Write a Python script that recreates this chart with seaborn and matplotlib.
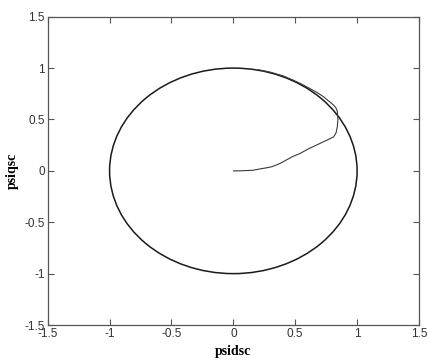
import numpy as np
import pandas as pd
import matplotlib
matplotlib.use("Agg")
import matplotlib.pyplot as plt
from matplotlib.patches import Circle
import seaborn as sns

# Stator flux trajectory (d/q components) during start-up
psid = [0.0, 0.05, 0.16, 0.22, 0.27, 0.31, 0.35, 0.39, 0.43, 0.48, 0.54, 0.60, 0.67, 0.74, 0.81,
        0.83, 0.84, 0.845, 0.84, 0.83, 0.81, 0.77, 0.73, 0.68, 0.62, 0.55, 0.48, 0.40, 0.30, 0.20]
psiq = [0.0, 0.0, 0.006, 0.02, 0.03, 0.04, 0.058, 0.08, 0.107, 0.14, 0.17, 0.21, 0.25, 0.29, 0.33,
        0.37, 0.43, 0.50, 0.58, 0.61, 0.64, 0.68, 0.72, 0.76, 0.80, 0.845, 0.885, 0.925, 0.96, 0.985]
flux_radius = 1.0  # steady-state flux magnitude
ticks = [-1.5, -1, -0.5, 0, 0.5, 1, 1.5]
tick_labels = ["-1.5", "-1", "-0.5", "0", "0.5", "1", "1.5"]

sns.set_theme(style="white")
plt.rcParams["font.family"] = ["Liberation Sans", "DejaVu Sans"]

fig = plt.figure(figsize=(4.28, 3.61), dpi=100)
ax = fig.add_axes([0.1114, 0.0997, 0.8676, 0.854])

df = pd.DataFrame({"psidsc": psid, "psiqsc": psiq})
sns.lineplot(data=df, x="psidsc", y="psiqsc", sort=False, estimator=None, ax=ax,
             color="#3a3a3a", linewidth=0.8)
ax.add_patch(Circle((0, 0), flux_radius, fill=False, edgecolor="#1a1a1a", linewidth=1.1))

ax.set_xlim(-1.5, 1.5)
ax.set_ylim(-1.5, 1.5)
ax.set_xticks(ticks)
ax.set_xticklabels(tick_labels)
ax.set_yticks(ticks)
ax.set_yticklabels(tick_labels)
ax.tick_params(direction="in", length=4, width=0.8, colors="#555555", labelcolor="#333333",
               labelsize=8.5, top=True, right=True, bottom=True, left=True, pad=2)
for s in ax.spines.values():
    s.set_visible(True)
    s.set_color("#555555")
    s.set_linewidth(0.9)

ax.set_xlabel("psidsc", family=["Liberation Serif", "DejaVu Serif"], fontweight="bold",
              fontsize=10, color="black", labelpad=4)
ax.set_ylabel("psiqsc", family=["Liberation Serif", "DejaVu Serif"], fontweight="bold",
              fontsize=10, color="black", labelpad=4)

fig.savefig("out.png", dpi=100, facecolor="white")
